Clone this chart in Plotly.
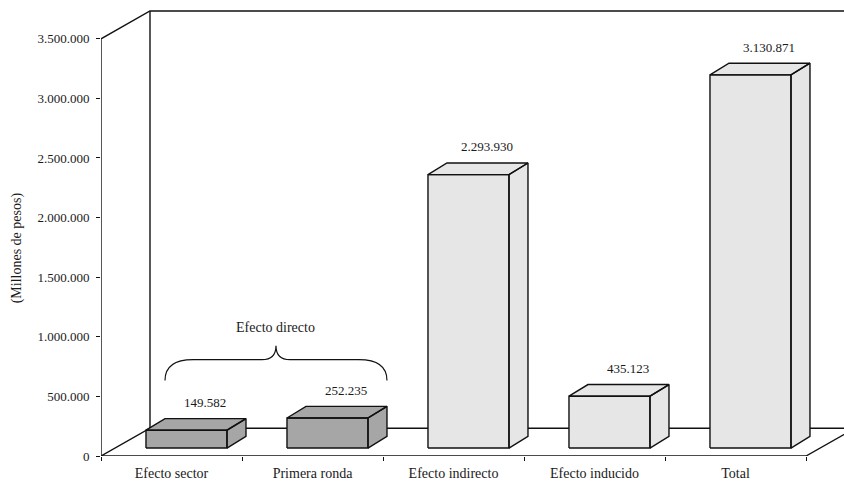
import plotly.graph_objects as go

# Data
categories = ["Efecto sector", "Primera ronda", "Efecto indirecto", "Efecto inducido", "Total"]
values = [149582, 252235, 2293930, 435123, 3130871]
bar_colors = ["#a6a6a6", "#a6a6a6", "#e6e6e6", "#e6e6e6", "#e6e6e6"]
y_ticks = [0, 500000, 1000000, 1500000, 2000000, 2500000, 3000000, 3500000]
y_title = "(Millones de pesos)"
brace_label = "Efecto directo"

FONT = "Liberation Serif"

# pixel scale of the original picture: 141 px per category, 60 px per 500.000
PX_X = 1 / 141
PX_Y = 500000 / 60

# fake 3d geometry
WALL_DX = 49 * PX_X
WALL_DY = 28 * PX_Y
BAR_DX = 19 * PX_X
BAR_DY = 11.7 * PX_Y
BAR_BASE = 8 * PX_Y
BAR_LEFT = -0.181
BAR_W = 81 * PX_X

y_max = y_ticks[-1]
n = len(categories)
x_lo = -0.5
x_hi = x_lo + 743 * PX_X


def fmt(v):
    return f"{v:,}".replace(",", ".")


fig = go.Figure()

# walls and floor outline
ox, oy = [], []
segments = [
    [(x_lo, 0), (x_lo, y_max), (x_lo + WALL_DX, y_max + WALL_DY), (n - 0.5 + WALL_DX, y_max + WALL_DY)],
    [(x_lo + WALL_DX, y_max + WALL_DY), (x_lo + WALL_DX, WALL_DY)],
    [(x_lo, 0), (x_lo + WALL_DX, WALL_DY), (n - 0.5 + WALL_DX, WALL_DY)],
    [(x_lo, 0), (n - 0.5, 0), (n - 0.5 + WALL_DX, WALL_DY)],
]
for seg in segments:
    for px, py in seg:
        ox.append(px)
        oy.append(py)
    ox.append(None)
    oy.append(None)
fig.add_trace(go.Scatter(x=ox, y=oy, mode="lines", line=dict(color="#111111", width=1.4),
                         hoverinfo="skip", showlegend=False, cliponaxis=False))

# bars: front, top and side faces
for i, (v, col) in enumerate(zip(values, bar_colors)):
    x0 = i + BAR_LEFT
    x1 = x0 + BAR_W
    y0 = BAR_BASE
    y1 = BAR_BASE + v
    faces = [
        [(x0, y0), (x1, y0), (x1, y1), (x0, y1)],
        [(x0, y1), (x1, y1), (x1 + BAR_DX, y1 + BAR_DY), (x0 + BAR_DX, y1 + BAR_DY)],
        [(x1, y0), (x1 + BAR_DX, y0 + BAR_DY), (x1 + BAR_DX, y1 + BAR_DY), (x1, y1)],
    ]
    bx, by = [], []
    for face in faces:
        for px, py in face + [face[0]]:
            bx.append(px)
            by.append(py)
        bx.append(None)
        by.append(None)
    fig.add_trace(go.Scatter(x=bx, y=by, mode="lines", fill="toself", fillcolor=col,
                             line=dict(color="#111111", width=1.4),
                             hoverinfo="skip", showlegend=False))
    # value label above the bar
    fig.add_annotation(x=x0 + BAR_DX + BAR_W / 2, y=y1 + BAR_DY, text=fmt(v),
                       showarrow=False, yanchor="middle", yshift=16,
                       font=dict(family=FONT, size=13, color="#1a1a1a"))

# brace over the first two bars
bl = 0 + BAR_LEFT + BAR_DX
br = 1 + BAR_LEFT + BAR_W + BAR_DX
bm = (bl + br) / 2
ye = 633000
yf = 808000
yt = 925000
qo = 0.2
qi = 0.1
brace = (f"M {bl},{ye} Q {bl},{yf} {bl + qo},{yf} L {bm - qi},{yf} "
         f"Q {bm},{yf} {bm},{yt} Q {bm},{yf} {bm + qi},{yf} "
         f"L {br - qo},{yf} Q {br},{yf} {br},{ye}")
fig.add_shape(type="path", path=brace, xref="x", yref="y",
              line=dict(color="#111111", width=1.2))
fig.add_annotation(x=bm, y=1075000, text=brace_label, showarrow=False,
                   font=dict(family=FONT, size=14, color="#1a1a1a"))

# y axis title
fig.add_annotation(x=0, xref="paper", y=1742000, yref="y", xshift=-84, text=y_title,
                   textangle=-90, showarrow=False, xanchor="center", yanchor="middle",
                   font=dict(family=FONT, size=14, color="#1a1a1a"))

fig.update_layout(
    width=844, height=481,
    margin=dict(l=101, r=0, t=5, b=22),
    paper_bgcolor="white", plot_bgcolor="white",
    separators=",.",
    font=dict(family=FONT, size=13, color="#1a1a1a"),
    xaxis=dict(range=[x_lo, x_hi], tickvals=list(range(n)), ticktext=categories,
               showgrid=False, zeroline=False, showline=False,
               ticks="outside", ticklen=4, tickcolor="rgba(0,0,0,0)",
               tickfont=dict(family=FONT, size=14),
               minor=dict(tickmode="array", tickvals=[i - 0.5 for i in range(n + 1)],
                          ticks="outside", ticklen=4, tickcolor="#111111", tickwidth=1.2)),
    yaxis=dict(range=[0, (459 - 5) * PX_Y], tickvals=y_ticks, tickformat=",d",
               showgrid=False, zeroline=False, showline=False,
               ticks="outside", ticklen=4, tickcolor="#111111", tickwidth=1.2,
               ticklabelstandoff=4, tickfont=dict(family=FONT, size=13)),
)

# page body has a default 8px margin, drop it so the figure sits at the corner
fig.write_html("out.html", config={"displayModeBar": False},
               post_script="document.body.style.margin = '0';")
